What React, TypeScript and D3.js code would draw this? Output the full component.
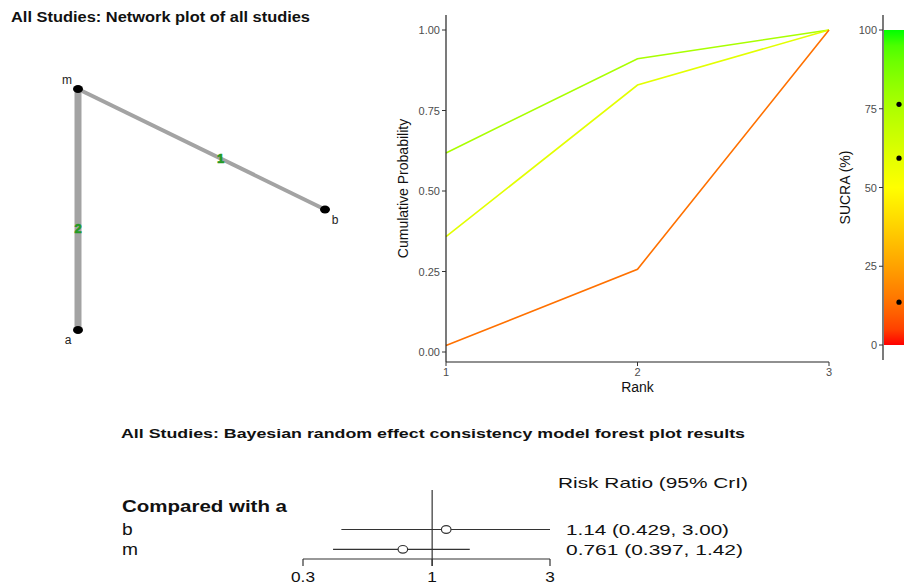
import React from 'react';
import * as d3 from 'd3';

// ---------- data ----------
const treatments = ['a', 'b', 'm'];
const layoutX = [0, 1, 0];
const layoutY = [0, 0.5, 1];
const edgeFrom = ['m', 'm'];
const edgeTo = ['a', 'b'];
const edgeStudies = [2, 1];

const ranks = [1, 2, 3];
const rankSeriesNames = ['b', 'a', 'm'];
const cumProbB = [0.618, 0.911, 1.0];
const cumProbA = [0.358, 0.829, 1.0];
const cumProbM = [0.02, 0.257, 1.0];
const sucraValues = [76.4, 59.3, 13.6];
const rankTicks = [0, 0.25, 0.5, 0.75, 1];
const rankTickLabels = ['0.00', '0.25', '0.50', '0.75', '1.00'];
const sucraTicks = [0, 25, 50, 75, 100];

const forestLabels = ['b', 'm'];
const forestEst = [1.14, 0.761];
const forestLow = [0.429, 0.397];
const forestHigh = [3.0, 1.42];
const forestText = ['1.14 (0.429, 3.00)', '0.761 (0.397, 1.42)'];
const forestTicks = [0.3, 1, 3];
const forestTickLabels = ['0.3', '1', '3'];

// ---------- styles ----------
const FONT = '"Liberation Sans", Arial, Helvetica, sans-serif';
const labelOffsets: Record<string, [number, number]> = { m: [-11, -5], b: [10, 14], a: [-10, 14] };
const forestTextWidths = [163, 177];

export default function App() {
  // network
  const nx = d3.scaleLinear().domain([0, 1]).range([78, 325]);
  const ny = d3.scaleLinear().domain([0, 1]).range([330, 89]);
  const edgeW = d3.scaleLinear().domain([1, 2]).range([4, 7]);
  const pos = (t: string) => {
    const i = treatments.indexOf(t);
    return [nx(layoutX[i]), ny(layoutY[i])];
  };

  // rank plot
  const rx = d3.scaleLinear().domain([1, 3]).range([446, 829]);
  const ry = d3.scaleLinear().domain([0, 1]).range([352, 30]);
  const color = d3
    .scaleLinear<string>()
    .domain([0, 50, 100])
    .range(['#ff0000', '#ffff00', '#00ff00'])
    .interpolate(d3.interpolateLab);
  const series = [cumProbB, cumProbA, cumProbM];
  const line = d3
    .line<number>()
    .x((_, i) => rx(ranks[i]))
    .y((d) => ry(d));

  // sucra
  const sy = d3.scaleLinear().domain([0, 100]).range([345, 30]);
  const stops = d3.range(0, 101, 5);

  // forest
  const fx = d3.scaleLog().domain([0.3, 3]).range([303, 550]);
  const rowY = [529.5, 549.3];

  return (
    <svg
      width={904}
      height={587}
      style={{ position: 'absolute', left: 0, top: 0, background: '#fff' }}
      fontFamily={FONT}
    >
      <defs>
        <linearGradient id="sucraGrad" x1="0" y1="1" x2="0" y2="0">
          {stops.map((s) => (
            <stop key={s} offset={`${s}%`} stopColor={color(s)} />
          ))}
        </linearGradient>
      </defs>
      <rect width={904} height={587} fill="#fff" />

      {/* ---------- Network plot ---------- */}
      <text x={11} y={22} fontSize={14} fontWeight="bold" fill="#111" textLength={299} lengthAdjust="spacingAndGlyphs">
        All Studies: Network plot of all studies
      </text>
      {edgeFrom.map((f, i) => {
        const [x1, y1] = pos(f);
        const [x2, y2] = pos(edgeTo[i]);
        return (
          <line key={'e' + i} x1={x1} y1={y1} x2={x2} y2={y2} stroke="#a3a3a3" strokeWidth={edgeW(edgeStudies[i])} />
        );
      })}
      {edgeFrom.map((f, i) => {
        const [x1, y1] = pos(f);
        const [x2, y2] = pos(edgeTo[i]);
        const t = 0.577;
        return (
          <text
            key={'el' + i}
            x={x1 + (x2 - x1) * t}
            y={y1 + (y2 - y1) * t + 4.5}
            textAnchor="middle"
            fontSize={13}
            fontWeight="bold"
            fill="#239a23"
            stroke="#239a23"
            strokeWidth={0.6}
          >
            {edgeStudies[i]}
          </text>
        );
      })}
      {treatments.map((t) => {
        const [x, y] = pos(t);
        const [dx, dy] = labelOffsets[t];
        return (
          <g key={'n' + t}>
            <ellipse cx={x} cy={y} rx={5} ry={4} fill="#000" />
            <text x={x + dx} y={y + dy} textAnchor="middle" fontSize={12} fill="#222">
              {t}
            </text>
          </g>
        );
      })}

      {/* ---------- Rank plot ---------- */}
      {series.map((s, i) => (
        <path key={'l' + i} d={line(s) || ''} fill="none" stroke={color(sucraValues[i])} strokeWidth={1.6} />
      ))}
      <line x1={446} y1={15} x2={446} y2={362} stroke="#222" strokeWidth={1.2} />
      <line x1={446} y1={362} x2={829} y2={362} stroke="#222" strokeWidth={1.2} />
      {rankTicks.map((t, i) => (
        <g key={'ry' + i}>
          <line x1={442} x2={446} y1={ry(t)} y2={ry(t)} stroke="#333" strokeWidth={1} />
          <text x={440} y={ry(t) + 4} textAnchor="end" fontSize={11} fill="#4d4d4d">
            {rankTickLabels[i]}
          </text>
        </g>
      ))}
      {ranks.map((r) => (
        <g key={'rx' + r}>
          <line x1={rx(r)} x2={rx(r)} y1={362} y2={366} stroke="#333" strokeWidth={1} />
          <text x={rx(r)} y={376} textAnchor="middle" fontSize={11} fill="#4d4d4d">
            {r}
          </text>
        </g>
      ))}
      <text x={rx(2)} y={392} textAnchor="middle" fontSize={14} fill="#111">
        Rank
      </text>
      <text
        transform={`translate(408, ${(15 + 362) / 2}) rotate(-90)`}
        textAnchor="middle"
        fontSize={14}
        fill="#111"
      >
        Cumulative Probability
      </text>

      {/* ---------- SUCRA bar ---------- */}
      <rect x={884} y={sy(100)} width={24} height={sy(0) - sy(100)} fill="url(#sucraGrad)" />
      <line x1={883} y1={15} x2={883} y2={360} stroke="#222" strokeWidth={1.2} />
      {sucraTicks.map((t) => (
        <g key={'st' + t}>
          <line x1={879} x2={883} y1={sy(t)} y2={sy(t)} stroke="#333" strokeWidth={1} />
          <text x={877} y={sy(t) + 4} textAnchor="end" fontSize={11} fill="#4d4d4d">
            {t}
          </text>
        </g>
      ))}
      {sucraValues.map((v, i) => (
        <circle key={'sd' + i} cx={899} cy={sy(v)} r={2.6} fill="#000">
          <title>{rankSeriesNames[i]}</title>
        </circle>
      ))}
      <text
        transform={`translate(850, ${sy(50)}) rotate(-90)`}
        textAnchor="middle"
        fontSize={14}
        fill="#111"
      >
        SUCRA (%)
      </text>

      {/* ---------- Forest plot ---------- */}
      <text x={121} y={438} fontSize={12.5} fontWeight="bold" fill="#111" textLength={624} lengthAdjust="spacingAndGlyphs">
        All Studies: Bayesian random effect consistency model forest plot results
      </text>
      <text x={558} y={488} fontSize={15} fill="#111" textLength={190} lengthAdjust="spacingAndGlyphs">
        Risk Ratio (95% CrI)
      </text>
      <text x={122} y={512} fontSize={16} fontWeight="bold" fill="#111" textLength={165} lengthAdjust="spacingAndGlyphs">
        Compared with a
      </text>
      <line x1={fx(1)} x2={fx(1)} y1={490} y2={566} stroke="#333" strokeWidth={1.2} />
      {forestLabels.map((l, i) => (
        <g key={'f' + i}>
          <text x={122} y={rowY[i] + 5.5} fontSize={16} fill="#111" transform={`translate(${122 * -0.2}, 0) scale(1.2, 1)`}>
            {l}
          </text>
          <line x1={fx(forestLow[i])} x2={fx(forestHigh[i])} y1={rowY[i]} y2={rowY[i]} stroke="#333" strokeWidth={1.2} />
          <ellipse cx={fx(forestEst[i])} cy={rowY[i]} rx={4.8} ry={3.8} fill="#fff" stroke="#333" strokeWidth={1.2} />
          <text x={566} y={rowY[i] + 5.5} fontSize={15} fill="#111" textLength={forestTextWidths[i]} lengthAdjust="spacingAndGlyphs">
            {forestText[i]}
          </text>
        </g>
      ))}
      <line x1={fx(0.3)} x2={fx(3)} y1={559} y2={559} stroke="#333" strokeWidth={1.2} />
      {forestTicks.map((t, i) => (
        <g key={'ft' + i}>
          <line x1={fx(t)} x2={fx(t)} y1={559} y2={566} stroke="#333" strokeWidth={1.2} />
          <text x={fx(t)} y={582} textAnchor="middle" fontSize={15} fill="#111" transform={`translate(${fx(t) * -0.15}, 0) scale(1.15, 1)`}>
            {forestTickLabels[i]}
          </text>
        </g>
      ))}
    </svg>
  );
}
